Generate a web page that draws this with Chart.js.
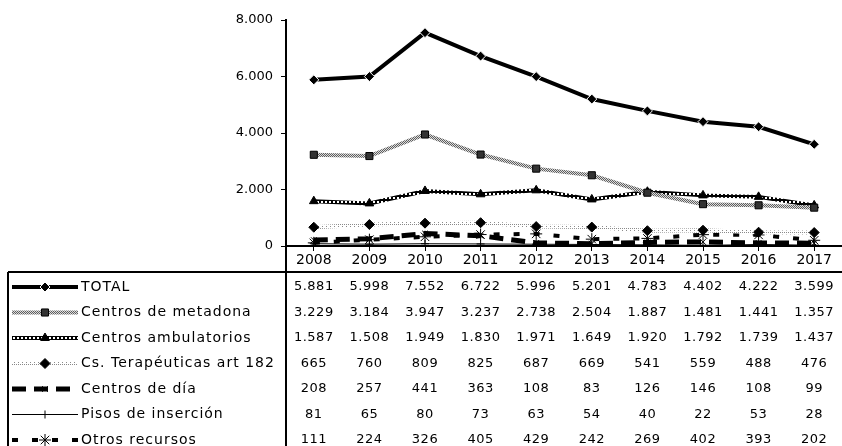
<!DOCTYPE html>
<html>
<head>
<meta charset="utf-8">
<script src="https://cdn.jsdelivr.net/npm/chart.js@4/dist/chart.umd.min.js"></script>
<style>
  html, body { margin: 0; padding: 0; background: #fff; overflow: hidden; }
  #wrap { width: 849px; height: 446px; }
</style>
</head>
<body>
<div id="wrap"><canvas id="chart" width="849" height="446"></canvas></div>
<script>
// values
const years = ['2008', '2009', '2010', '2011', '2012', '2013', '2014', '2015', '2016', '2017'];
const total = [5881, 5998, 7552, 6722, 5996, 5201, 4783, 4402, 4222, 3599];
const metadona = [3229, 3184, 3947, 3237, 2738, 2504, 1887, 1481, 1441, 1357];
const ambulatorios = [1587, 1508, 1949, 1830, 1971, 1649, 1920, 1792, 1739, 1437];
const terapeuticas = [665, 760, 809, 825, 687, 669, 541, 559, 488, 476];
const centrosDia = [208, 257, 441, 363, 108, 83, 126, 146, 108, 99];
const pisos = [81, 65, 80, 73, 63, 54, 40, 22, 53, 28];
const otros = [111, 224, 326, 405, 429, 242, 269, 402, 393, 202];
const seriesNames = ['TOTAL', 'Centros de metadona', 'Centros ambulatorios', 'Cs. Terapéuticas art 182',
                     'Centros de día', 'Pisos de inserción', 'Otros recursos'];
const yTicks = [0, 2000, 4000, 6000, 8000];

// thousands separator with a dot
function fmt(n) {
    return String(n).replace(/\B(?=(\d{3})+(?!\d))/g, '.');
}

// small tiled patterns for the textured lines
function makePattern(size, draw) {
    const c = document.createElement('canvas');
    c.width = size;
    c.height = size;
    const g = c.getContext('2d');
    draw(g);
    return g.createPattern(c, 'repeat');
}

const greyHatch = makePattern(2, g => {
    g.fillStyle = '#dcdcdc';
    g.fillRect(0, 0, 2, 2);
    g.fillStyle = '#5e5e5e';
    g.fillRect(0, 0, 1, 1);
    g.fillRect(1, 1, 1, 1);
});
const chain = makePattern(4, g => {
    g.fillStyle = '#000';
    g.fillRect(0, 0, 4, 4);
    g.fillStyle = '#fff';
    g.fillRect(1, 1, 2, 2);
});
const dotted = makePattern(4, g => {
    g.fillStyle = '#fff';
    g.fillRect(0, 0, 4, 4);
    g.fillStyle = '#8a8a8a';
    g.fillRect(0, 0, 1, 1);
    g.fillRect(2, 2, 1, 1);
    g.fillRect(2, 0, 1, 1);
});

const styles = [
    { borderColor: '#000', borderWidth: 4, pointStyle: 'rectRot', pointRadius: 5, pointBackgroundColor: '#000', pointBorderColor: '#fff', pointBorderWidth: 1 },
    { borderColor: greyHatch, borderWidth: 4, pointStyle: 'rect', pointRadius: 5, pointBackgroundColor: '#333', pointBorderColor: '#000', pointBorderWidth: 1 },
    { borderColor: chain, borderWidth: 4, pointStyle: 'triangle', pointRadius: 5, pointBackgroundColor: '#000', pointBorderColor: '#000', pointBorderWidth: 1 },
    { borderColor: dotted, borderWidth: 4, pointStyle: 'rectRot', pointRadius: 5, pointBackgroundColor: '#000', pointBorderColor: '#000', pointBorderWidth: 1 },
    { borderColor: '#000', borderWidth: 5, borderDash: [14, 8], pointStyle: 'crossRot', pointRadius: 4, pointBackgroundColor: '#000', pointBorderColor: '#000', pointBorderWidth: 1 },
    { borderColor: '#000', borderWidth: 1, pointStyle: 'cross', pointRadius: 4, pointBackgroundColor: '#000', pointBorderColor: '#000', pointBorderWidth: 1 },
    { borderColor: '#000', borderWidth: 4, borderDash: [6, 14], pointStyle: 'star', pointRadius: 6, pointBackgroundColor: '#000', pointBorderColor: '#000', pointBorderWidth: 1 }
];

const seriesData = [total, metadona, ambulatorios, terapeuticas, centrosDia, pisos, otros];

const datasets = seriesData.map((d, i) => Object.assign({
    label: seriesNames[i],
    data: d,
    fill: false,
    tension: 0
}, styles[i]));

// draws the data table (legend keys + values) below the axis
const tablePlugin = {
    id: 'dataTable',
    afterDraw(chart) {
        const ctx = chart.ctx;
        const xScale = chart.scales.x;
        const area = chart.chartArea;
        const headerLine = area.bottom + 26;
        const firstRow = area.bottom + 41;
        const rowStep = 25.5;
        const tableLeft = 8;

        ctx.save();
        ctx.strokeStyle = '#000';
        ctx.lineWidth = 2;
        ctx.beginPath();
        ctx.moveTo(area.left, area.bottom);
        ctx.lineTo(area.left, chart.height);
        ctx.moveTo(tableLeft, headerLine);
        ctx.lineTo(chart.width, headerLine);
        ctx.moveTo(tableLeft, headerLine);
        ctx.lineTo(tableLeft, chart.height);
        ctx.stroke();

        chart.data.datasets.forEach((ds, i) => {
            const y = firstRow + i * rowStep;

            // legend key line
            ctx.save();
            ctx.strokeStyle = ds.borderColor;
            ctx.lineWidth = ds.borderWidth;
            ctx.setLineDash(ds.borderDash || []);
            ctx.beginPath();
            ctx.moveTo(tableLeft + 4, y);
            ctx.lineTo(tableLeft + 70, y);
            ctx.stroke();
            ctx.restore();

            ctx.save();
            ctx.fillStyle = ds.pointBackgroundColor;
            ctx.strokeStyle = ds.pointBorderColor;
            ctx.lineWidth = ds.pointBorderWidth;
            Chart.helpers.drawPoint(ctx, {
                pointStyle: ds.pointStyle,
                radius: ds.pointRadius,
                rotation: 0,
                borderWidth: ds.pointBorderWidth
            }, tableLeft + 37, y);
            ctx.restore();

            ctx.fillStyle = '#000';
            ctx.textBaseline = 'middle';
            ctx.font = '14px "DejaVu Sans"';
            ctx.letterSpacing = '1px';
            ctx.textAlign = 'left';
            ctx.fillText(ds.label, tableLeft + 73, y);

            ctx.font = '13px "DejaVu Sans"';
            ctx.letterSpacing = '0.5px';
            ctx.textAlign = 'center';
            ds.data.forEach((v, j) => {
                ctx.fillText(fmt(v), xScale.getPixelForValue(j), y);
            });
        });
        ctx.restore();
    }
};

new Chart(document.getElementById('chart'), {
    type: 'line',
    data: {
        labels: years,
        datasets: datasets
    },
    options: {
        responsive: false,
        animation: false,
        layout: { padding: { top: 20, right: 0, left: 0, bottom: 0 } },
        plugins: {
            legend: { display: false },
            tooltip: { enabled: false }
        },
        scales: {
            x: {
                offset: true,
                grid: { offset: false, drawOnChartArea: false, drawTicks: true, tickLength: 5, color: '#000', lineWidth: 1 },
                border: { color: '#000', width: 2 },
                ticks: {
                    color: '#000',
                    font: { family: 'DejaVu Sans', size: 14 },
                    padding: 1,
                    maxRotation: 0,
                    autoSkip: false
                },
                afterFit(scale) { scale.height = 200; }
            },
            y: {
                min: 0,
                max: 8000,
                afterBuildTicks(scale) { scale.ticks = yTicks.map(v => ({ value: v })); },
                grid: { drawOnChartArea: false, drawTicks: true, tickLength: 5, color: '#000', lineWidth: 1 },
                border: { color: '#000', width: 2 },
                ticks: {
                    color: '#000',
                    font: { family: 'DejaVu Sans', size: 13 },
                    padding: 8,
                    callback: v => fmt(v)
                },
                afterFit(scale) { scale.width = 286; }
            }
        }
    },
    plugins: [tablePlugin]
});
</script>
</body>
</html>
